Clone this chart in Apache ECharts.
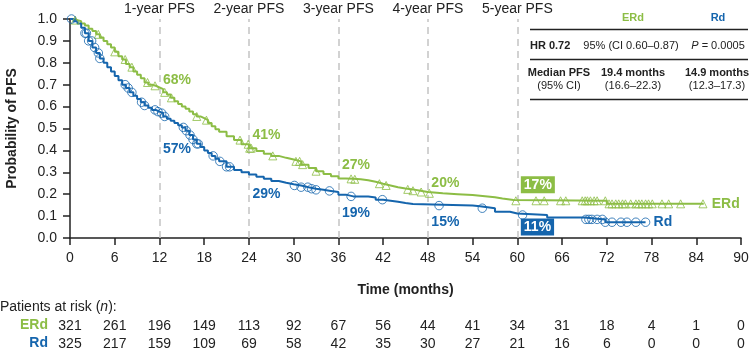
<!DOCTYPE html>
<html>
<head>
<meta charset="utf-8">
<script src="https://cdn.jsdelivr.net/npm/echarts@6/dist/echarts.min.js"></script>
<style>
  html, body { margin: 0; padding: 0; background: #fff; }
  #chart { width: 750px; height: 351px; }
</style>
</head>
<body>
<div id="chart"></div>
<script>
// Kaplan-Meier step points (months, probability)
var erdTime = [0,0.5,1,1.5,2,2.5,3,3.5,4,4.5,5,5.5,6,6.5,7,7.5,8,8.5,9,9.5,10,10.5,11,11.5,12,
  12.5,13,13.5,14,14.5,15,15.5,16,16.5,17,17.5,18,18.5,19,19.5,20,
  21,22,23,24,25,26,27,28,29,30,31,32,33,34,35,36,37,38,39,40,41,42,43,44,45,46,47,48,
  50,52,54,56,57,58,59.5,72,85]
var erdSurv = [1.0,0.995,0.99,0.98,0.97,0.955,0.945,0.93,0.915,0.9,
  0.885,0.87,0.85,0.83,0.815,0.795,0.78,0.76,0.745,0.73,
  0.71,0.70,0.695,0.688,0.68,
  0.665,0.655,0.64,0.625,0.612,0.60,0.59,0.578,0.565,0.555,0.547,0.538,0.525,0.51,0.497,0.485,
  0.465,0.447,0.428,0.41,0.397,0.385,0.375,0.366,0.358,0.35,
  0.335,0.32,0.305,0.292,0.282,0.272,0.27,0.268,0.264,0.257,
  0.248,0.24,0.232,0.226,0.222,0.216,0.21,0.204,
  0.2,0.196,0.19,0.186,0.18,0.174,0.17,0.156,0.156]
var rdTime = [0,0.5,1,1.5,2,2.5,3,3.5,4,4.5,5,5.5,6,6.5,7,7.5,8,8.5,9,9.5,10,10.5,11,11.5,12,
  12.5,13,13.5,14,14.5,15,15.5,16,16.5,17,17.5,18,18.5,19,19.5,20,
  21,22,23,24,25,26,27,28,29,30,31,32,33,34,35,36,37,38,
  40,41,42,44,45,46,54,55,57,59,60,64,69,71.8,77.2]
var rdSurv = [1.0,0.99,0.98,0.96,0.935,0.9,0.87,0.845,0.82,0.8,
  0.78,0.76,0.74,0.72,0.70,0.685,0.665,0.65,0.635,0.62,
  0.605,0.595,0.585,0.577,0.57,
  0.555,0.545,0.535,0.525,0.515,0.505,0.49,0.47,0.45,0.43,0.415,0.4,0.388,0.375,0.362,0.35,
  0.325,0.31,0.3,0.29,0.28,0.27,0.26,0.252,0.245,0.24,0.232,0.225,0.22,0.215,0.21,0.198,0.19,0.189,
  0.185,0.175,0.166,0.16,0.155,0.148,0.145,0.136,0.12,0.112,0.105,0.094,0.085,0.072,0.072]

// censored observations (months)
var erdCensor = [0.7,3.8,6.0,7.4,8.3,10.4,11.4,12.7,13.6,17,18.3,22.8,23.9,24.1,24.3,27.2,30.3,30.8,31.2,33,
  37.7,38.2,41.5,42.4,45.3,46,47.1,48.2,59.8,62.5,63.6,65.8,66.5,68.7,69.1,69.4,69.8,70.3,70.7,
  71.8,72.3,72.7,73.2,73.6,74.1,74.5,75.2,75.9,76.3,76.7,77.2,77.6,78.1,79.4,80.3,81.9,84.9]
var rdCensor = [0.2,2,2.2,2.5,2.9,3.3,3.8,4,7.4,7.8,8.3,9.6,10.0,11.4,11.8,12.3,12.7,15.2,15.6,16.1,16.5,17,17.2,
  19.2,20.1,21,21.4,30.1,31,31.9,32.4,33,34.8,37.7,41.9,49.5,55.3,60.7,69.2,69.6,70,70.7,71.4,71.8,72.7,73.9,74.7,75.9,77.2]

var milestoneMonths = [12, 24, 36, 48, 60]
var milestoneLabels = ['1-year PFS', '2-year PFS', '3-year PFS', '4-year PFS', '5-year PFS']
var erdPct = [68, 41, 27, 20, 17]
var rdPct = [57, 29, 19, 15, 11]

var riskErd = [321,261,196,149,113,92,67,56,44,41,34,31,18,4,1,0]
var riskRd = [325,217,159,109,69,58,42,35,30,27,21,16,6,0,0,0]

var GREEN = '#8cbd45'
var BLUE = '#1565ad'
var INK = '#222'
var FONT = '"Liberation Sans", Arial, Helvetica, sans-serif'
var FS = 14

function stepAt(times, vals, t) {
  var v = vals[0]
  for (var i = 0; i < times.length; i++) {
    if (times[i] <= t) v = vals[i]
  }
  return v
}
function pairs(times, vals) {
  return times.map(function (t, i) { return [t, vals[i]] })
}

var erdOffsets = [[0, -9], [0, -13], [0, -14], [0, -11], [0, -16]]
var rdOffsets = [[0, 36], [0, 20], [0, 17], [0, 17], [0, 13]]

function pctMarks(pcts, offsets, color) {
  return pcts.map(function (p, i) {
    var boxed = i === pcts.length - 1
    return {
      coord: [milestoneMonths[i], p / 100],
      label: {
        show: true,
        position: 'right',
        distance: 3,
        offset: offsets[i],
        formatter: p + '%',
        color: boxed ? '#fff' : color,
        backgroundColor: boxed ? color : 'transparent',
        padding: boxed ? [2, 3, 1, 3] : 0,
        fontWeight: 'bold',
        fontSize: FS,
        fontFamily: FONT
      }
    }
  })
}

function riskAxis(values, offset) {
  return {
    type: 'value', gridIndex: 0, position: 'bottom', offset: offset,
    min: 0, max: 90, interval: 6,
    axisLine: { show: false }, axisTick: { show: false }, splitLine: { show: false },
    axisLabel: {
      margin: 8, fontSize: FS, color: INK, fontFamily: FONT,
      formatter: function (v) { return values[Math.round(v / 6)] }
    }
  }
}

function txt(x, y, text, opts) {
  opts = opts || {}
  return {
    type: 'text', x: x, y: y,
    style: {
      text: text,
      fill: opts.fill || INK,
      font: (opts.bold ? 'bold ' : '') + (opts.size || 11) + 'px ' + FONT,
      textAlign: opts.align || 'center',
      textVerticalAlign: 'middle',
      rich: opts.rich
    }
  }
}
function rule(y) {
  return { type: 'line', shape: { x1: 530, y1: y, x2: 748, y2: y }, style: { stroke: INK, lineWidth: 1.5 } }
}

var chart = echarts.init(document.getElementById('chart'))

var option = {
  animation: false,
  textStyle: { fontFamily: FONT },
  grid: { left: 70, right: 9, top: 19, bottom: 113, outerBoundsMode: 'none', containLabel: false },
  xAxis: [{
    type: 'value', min: 0, max: 90, interval: 6,
    name: 'Time (months)', nameLocation: 'middle', nameGap: 45,
    nameTextStyle: { fontWeight: 'bold', fontSize: FS, color: INK },
    axisLine: { lineStyle: { color: INK, width: 1.5 } },
    axisTick: { length: 7, lineStyle: { color: INK, width: 1.5 } },
    axisLabel: { margin: 13, fontSize: FS, color: INK },
    splitLine: { show: false }
  }, riskAxis(riskErd, 73), riskAxis(riskRd, 91)],
  yAxis: {
    type: 'value', min: 0, max: 1, interval: 0.1,
    name: 'Probability of PFS', nameLocation: 'middle', nameGap: 51,
    nameTextStyle: { fontWeight: 'bold', fontSize: FS, color: INK },
    axisLine: { show: true, lineStyle: { color: INK, width: 1.5 } },
    axisTick: { show: true, length: 7, lineStyle: { color: INK, width: 1.5 } },
    axisLabel: { fontSize: FS, color: INK, margin: 13, formatter: function (v) { return v.toFixed(1) } },
    splitLine: { show: false }
  },
  series: [{
    name: 'ERd', type: 'line', step: 'end', data: pairs(erdTime, erdSurv),
    showSymbol: false, lineStyle: { color: GREEN, width: 2 }, itemStyle: { color: GREEN },
    endLabel: { show: true, formatter: 'ERd', color: GREEN, fontWeight: 'bold', fontSize: FS, distance: 8 },
    markLine: {
      silent: true, symbol: ['none', 'none'], z: 1,
      lineStyle: { color: '#c4c4c4', type: [7, 5], width: 1.5 },
      label: { show: true, position: 'end', color: INK, fontSize: FS, distance: 3 },
      data: milestoneMonths.map(function (m, i) {
        return { xAxis: m, label: { formatter: milestoneLabels[i] } }
      })
    },
    markPoint: {
      symbol: 'circle', symbolSize: 1, itemStyle: { color: 'rgba(0,0,0,0)' },
      data: pctMarks(erdPct, erdOffsets, GREEN)
    },
    z: 3
  }, {
    name: 'Rd', type: 'line', step: 'end', data: pairs(rdTime, rdSurv),
    showSymbol: false, lineStyle: { color: BLUE, width: 2 }, itemStyle: { color: BLUE },
    endLabel: { show: true, formatter: 'Rd', color: BLUE, fontWeight: 'bold', fontSize: FS, distance: 8 },
    markPoint: {
      symbol: 'circle', symbolSize: 1, itemStyle: { color: 'rgba(0,0,0,0)' },
      data: pctMarks(rdPct, rdOffsets, BLUE)
    },
    z: 3
  }, {
    name: 'ERd censored', type: 'scatter', symbol: 'triangle', symbolSize: 8,
    data: erdCensor.map(function (t) { return [t, stepAt(erdTime, erdSurv, t)] }),
    itemStyle: { color: 'rgba(0,0,0,0)', borderColor: GREEN, borderWidth: 1 },
    z: 4
  }, {
    name: 'Rd censored', type: 'scatter', symbol: 'circle', symbolSize: 8.5,
    data: rdCensor.map(function (t) { return [t, stepAt(rdTime, rdSurv, t)] }),
    itemStyle: { color: 'rgba(0,0,0,0)', borderColor: BLUE, borderWidth: 1 },
    z: 4
  }],
  graphic: [
    // risk table labels
    { type: 'text', x: 0, y: 307, style: {
      text: '{a|Patients at risk (}{b|n}{a|):}', textVerticalAlign: 'middle',
      rich: { a: { fontSize: FS, fill: INK, fontFamily: FONT }, b: { fontSize: FS, fill: INK, fontStyle: 'italic', fontFamily: FONT } }
    } },
    txt(48, 325, 'ERd', { fill: GREEN, bold: true, size: FS, align: 'right' }),
    txt(48, 343, 'Rd', { fill: BLUE, bold: true, size: FS, align: 'right' }),
    // summary table
    txt(633, 18, 'ERd', { fill: GREEN, bold: true }),
    txt(718, 18, 'Rd', { fill: BLUE, bold: true }),
    rule(29.5),
    txt(530, 46, 'HR 0.72', { bold: true, align: 'left' }),
    txt(631, 46, '95% (CI 0.60–0.87)'),
    txt(718, 46, '{i|P} = 0.0005', { rich: { i: { fontStyle: 'italic', fontSize: 11, fill: INK, fontFamily: FONT } } }),
    rule(59.5),
    txt(559, 72.5, 'Median PFS', { bold: true }),
    txt(559, 86, '(95% CI)'),
    txt(633, 72.5, '19.4 months', { bold: true }),
    txt(633, 86, '(16.6–22.3)'),
    txt(717, 72.5, '14.9 months', { bold: true }),
    txt(717, 86, '(12.3–17.3)'),
    rule(99.5)
  ]
}

chart.setOption(option)
</script>
</body>
</html>
